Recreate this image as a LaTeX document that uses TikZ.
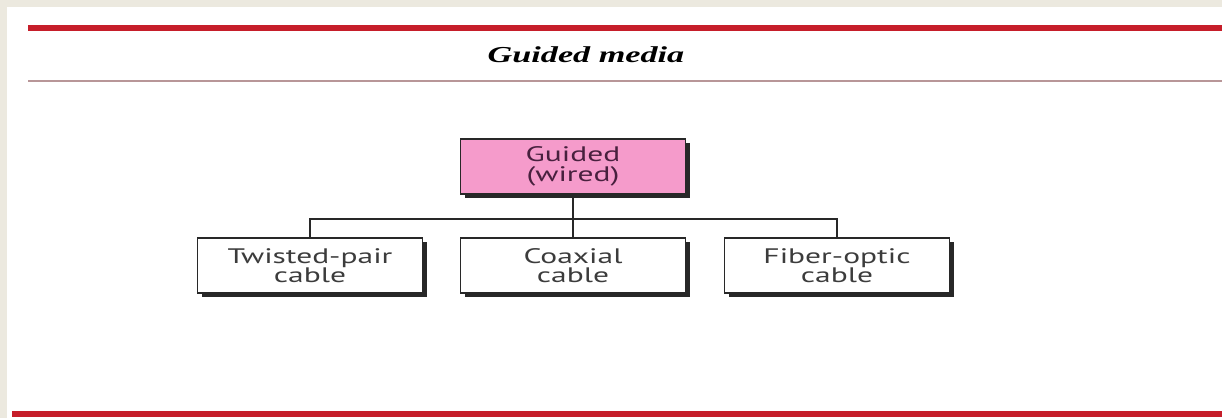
\documentclass[tikz,border=0pt]{standalone}
\usepackage{fontspec}
\setmainfont{Liberation Serif}
\newfontfamily\boxfont{PT Sans}
\usetikzlibrary{shadows}
\definecolor{slidebg}{RGB}{236,233,223}
\definecolor{slidered}{RGB}{198,30,42}
\definecolor{ruleline}{RGB}{184,150,152}
\definecolor{guidedpink}{RGB}{245,155,203}
\definecolor{guidedtext}{RGB}{72,32,62}
\definecolor{boxedge}{RGB}{40,40,40}
\definecolor{boxtext}{RGB}{60,60,60}
\newcommand{\wide}[1]{\scalebox{1.5}[1]{#1}}

\begin{document}
\begin{tikzpicture}[x=0.5pt,y=-0.5pt,
  box/.style={draw=boxedge,line width=0.9pt,fill=white,minimum width=112.5pt,minimum height=27.5pt,inner sep=0pt,align=center,font=\boxfont\fontsize{10.5}{9.8}\selectfont,text=boxtext,drop shadow={shadow xshift=2pt,shadow yshift=-2pt,fill=boxedge,opacity=1}},
  link/.style={draw=boxedge,line width=1pt}]
\useasboundingbox (0,0) rectangle (1222,418);
\fill[slidebg] (0,0) rectangle (1222,418);
\fill[white] (7,7) rectangle (1222,418);
\draw[slidered,line width=2.6pt] (28,28) -- (1222,28);
\draw[ruleline,line width=0.8pt] (28,81) -- (1222,81);
\draw[slidered,line width=2.6pt] (12,414) -- (1222,414);
\node[font=\fontsize{11.4}{13}\selectfont\bfseries\itshape] (title) at (586,55) {\wide{Guided media}};
\node[box,fill=guidedpink,text=guidedtext] (guided) at (573,166.5) {\wide{Guided}\\\wide{(wired)}};
\node[box] (twisted) at (310,265.5) {\wide{Twisted-pair}\\\wide{cable}};
\node[box] (coax) at (573,265.5) {\wide{Coaxial}\\\wide{cable}};
\node[box] (fiber) at (837,265.5) {\wide{Fiber-optic}\\\wide{cable}};
\coordinate (bar) at (573,219);
\draw[link] (guided.south) -- (coax.north);
\draw[link] (twisted.north) |- (bar) -| (fiber.north);
\end{tikzpicture}
\end{document}
